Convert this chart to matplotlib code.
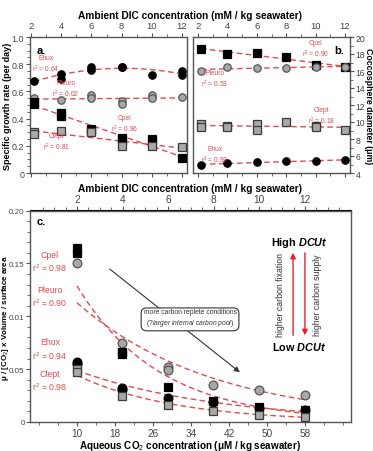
import numpy as np
import matplotlib.pyplot as plt
from matplotlib.ticker import MultipleLocator, FixedLocator, FixedFormatter

plt.rcParams['font.family'] = ['Liberation Sans', 'DejaVu Sans']
plt.rcParams['mathtext.fontset'] = 'custom'
plt.rcParams['mathtext.rm'] = 'Liberation Sans'
plt.rcParams['mathtext.it'] = 'Liberation Sans:italic'
plt.rcParams['mathtext.bf'] = 'Liberation Sans:bold'
plt.rcParams['mathtext.bfit'] = 'Liberation Sans:bold:italic'

# ---- panel a: specific growth rate vs ambient DIC ----
a_ehux_x = [2.2, 4, 4, 6, 6, 8, 8, 10, 12, 12]
a_ehux_y = [0.68, 0.73, 0.69, 0.78, 0.76, 0.78, 0.78, 0.72, 0.75, 0.72]
a_pleuro_x = [2.2, 4, 6, 6, 8, 8, 10, 10, 12]
a_pleuro_y = [0.55, 0.54, 0.57, 0.55, 0.53, 0.51, 0.57, 0.55, 0.56]
a_cpel_x = [2.2, 2.2, 4, 4, 6, 6, 8, 8, 10, 10, 12]
a_cpel_y = [0.52, 0.51, 0.44, 0.42, 0.32, 0.31, 0.26, 0.24, 0.25, 0.22, 0.11]
a_clept_x = [2.2, 2.2, 4, 6, 8, 10, 12]
a_clept_y = [0.30, 0.29, 0.31, 0.30, 0.20, 0.20, 0.19]

# ---- panel b: coccosphere diameter vs ambient DIC ----
b_cpel_x = [2.2, 4, 6, 8, 10, 12]
b_cpel_y = [18.6, 18.0, 18.1, 17.7, 16.7, 16.5]
b_pleuro_x = [2.2, 4, 6, 8, 10, 12]
b_pleuro_y = [16.0, 16.5, 16.3, 16.4, 16.5, 16.5]
b_clept_x = [2.2, 2.2, 4, 4, 6, 6, 8, 10, 10, 12]
b_clept_y = [9.8, 9.4, 9.5, 9.4, 9.8, 9.1, 10.0, 9.5, 9.4, 9.1]
b_ehux_x = [2.2, 4, 6, 8, 10, 12]
b_ehux_y = [4.9, 5.2, 5.3, 5.4, 5.4, 5.5]

# ---- panel c: vs aqueous CO2 ----
c_cpel_x = [10, 10, 19.5, 19.5, 29.2, 38.6, 48.3, 58]
c_cpel_y = [0.165, 0.160, 0.066, 0.064, 0.033, 0.020, 0.014, 0.011]
c_pleuro_x = [10, 19.5, 29.2, 29.2, 38.6, 48.3, 58]
c_pleuro_y = [0.150, 0.075, 0.052, 0.049, 0.035, 0.030, 0.026]
c_ehux_x = [10, 10, 19.5, 19.5, 29.2, 38.6, 48.3, 58]
c_ehux_y = [0.057, 0.055, 0.032, 0.030, 0.023, 0.019, 0.013, 0.011]
c_clept_x = [10, 10, 19.5, 29.2, 38.6, 48.3, 58]
c_clept_y = [0.050, 0.047, 0.025, 0.016, 0.010, 0.007, 0.005]

dic_ticks = [2, 4, 6, 8, 10, 12]
co2_ticks = [10, 18, 26, 34, 42, 50, 58]
c_ytick_labels = ['0', '0.05', '0.01', '0.15', '0.20']

RED = '#e34a4e'
styles = {
    'ehux': dict(marker='o', mfc='black', mec='black'),
    'pleuro': dict(marker='o', mfc='#a8a8a8', mec='#555555'),
    'cpel': dict(marker='s', mfc='black', mec='black'),
    'clept': dict(marker='s', mfc='#a8a8a8', mec='#3a3a3a'),
}


def pts(ax, x, y, key, ms=5.3):
    ax.plot(x, y, ls='none', ms=ms, mew=0.9, zorder=3, **styles[key])


def fit(ax, x, y, deg=1, kind='poly', xr=None):
    x = np.asarray(x, float)
    y = np.asarray(y, float)
    xs = np.linspace(min(x), max(x), 100) if xr is None else np.linspace(*xr, 100)
    if kind == 'exp':
        p = np.polyfit(x, np.log(y), 1)
        ys = np.exp(np.polyval(p, xs))
    else:
        p = np.polyfit(x, y, deg)
        ys = np.polyval(p, xs)
    ax.plot(xs, ys, color=RED, ls=(0, (4, 2.5)), lw=1.0, zorder=2)


def style_axis(ax, size=6.8):
    for s in ax.spines.values():
        s.set_color('#555555')
        s.set_linewidth(1.0)
    ax.tick_params(which='both', direction='out', colors='#555555',
                   labelcolor='#444444', labelsize=size, pad=1.5)
    ax.tick_params(which='major', length=3.2)
    ax.tick_params(which='minor', length=2)


W, H = 373, 452
fig = plt.figure(figsize=(W / 100, H / 100), dpi=100)
TFS = 7.3

# ---------- panel a ----------
ax_a = fig.add_axes([30 / W, 1 - 174 / H, 157 / W, 136 / H])
pts(ax_a, a_ehux_x, a_ehux_y, 'ehux')
pts(ax_a, a_pleuro_x, a_pleuro_y, 'pleuro')
pts(ax_a, a_cpel_x, a_cpel_y, 'cpel')
pts(ax_a, a_clept_x, a_clept_y, 'clept')
fit(ax_a, a_ehux_x, a_ehux_y, deg=2)
fit(ax_a, a_pleuro_x, a_pleuro_y)
fit(ax_a, a_cpel_x, a_cpel_y)
fit(ax_a, a_clept_x, a_clept_y)
ax_a.set_xlim(1.93, 12.33)
ax_a.set_ylim(0, 1.0)
ax_a.set_xticks(dic_ticks)
ax_a.xaxis.set_minor_locator(MultipleLocator(1))
ax_a.set_yticks([0, 0.2, 0.4, 0.6, 0.8, 1.0])
ax_a.set_yticklabels(['0', '0.2', '0.4', '0.6', '0.8', '1.0'])
ax_a.yaxis.set_minor_locator(MultipleLocator(0.05))
ax_a.tick_params(axis='x', which='both', top=True, labeltop=True, labelbottom=False)
style_axis(ax_a)
ax_a.tick_params(axis='y', labelsize=6.4, pad=1)
fig.text(7.3 / W, 1 - 106 / H, 'Specific growth rate (per day)', rotation=90,
         fontsize=6.5, fontweight='bold', ha='center', va='center')
ax_a.text(0.045, 0.94, 'a.', transform=ax_a.transAxes, fontsize=8, fontweight='bold', va='top')
lab_kw = dict(color=RED, fontsize=4.8, ha='center', va='center', linespacing=1.2)
ax_a.text(3.0, 0.80, 'Ehux\nr$^2$ = 0.64', **lab_kw)
ax_a.text(4.3, 0.62, 'Pleuro\nr$^2$ = 0.02', **lab_kw)
ax_a.text(8.2, 0.36, 'Cpel\nr$^2$ = 0.96', **lab_kw)
ax_a.text(3.7, 0.23, 'Clept\nr$^2$ = 0.81', **lab_kw)

# ---------- panel b ----------
ax_b = fig.add_axes([193 / W, 1 - 174 / H, 157 / W, 136 / H])
pts(ax_b, b_cpel_x, b_cpel_y, 'cpel')
pts(ax_b, b_pleuro_x, b_pleuro_y, 'pleuro')
pts(ax_b, b_clept_x, b_clept_y, 'clept')
pts(ax_b, b_ehux_x, b_ehux_y, 'ehux')
fit(ax_b, b_cpel_x, b_cpel_y)
fit(ax_b, b_pleuro_x, b_pleuro_y)
fit(ax_b, b_clept_x, b_clept_y)
fit(ax_b, b_ehux_x, b_ehux_y)
ax_b.set_xlim(1.66, 12.34)
ax_b.set_ylim(4, 20)
ax_b.set_xticks(dic_ticks)
ax_b.xaxis.set_minor_locator(MultipleLocator(1))
ax_b.yaxis.set_major_locator(MultipleLocator(2))
ax_b.yaxis.set_minor_locator(MultipleLocator(1))
ax_b.tick_params(axis='x', which='both', top=True, labeltop=True, labelbottom=False)
ax_b.tick_params(axis='y', which='both', left=False, right=True, labelleft=False, labelright=True)
style_axis(ax_b)
ax_b.tick_params(axis='y', labelsize=6.2, pad=1)
ax_b.tick_params(axis='y', which='major', length=3)
fig.text(368.5 / W, 1 - 106 / H, 'Coccosphere diameter (μm)', rotation=-90,
         fontsize=6.3, fontweight='bold', ha='center', va='center')
ax_b.text(0.96, 0.94, 'b.', transform=ax_b.transAxes, fontsize=8, fontweight='bold',
          va='top', ha='right')
ax_b.text(10.0, 18.6, 'Cpel\nr$^2$ = 0.90', **lab_kw)
ax_b.text(3.15, 15.1, 'Pleuro\nr$^2$ = 0.53', **lab_kw)
ax_b.text(10.4, 10.7, 'Clept\nr$^2$ = 0.18', **lab_kw)
ax_b.text(3.15, 6.1, 'Ehux\nr$^2$ = 0.93', **lab_kw)

fig.text(190 / W, 1 - 16 / H, 'Ambient DIC concentration (mM / kg seawater)',
         ha='center', va='center', fontsize=TFS, fontweight='bold')

# ---------- panel c ----------
ax_c = fig.add_axes([30 / W, 1 - 423 / H, 321 / W, 211.5 / H])
pts(ax_c, c_pleuro_x, c_pleuro_y, 'pleuro', ms=6.3)
pts(ax_c, c_cpel_x, c_cpel_y, 'cpel', ms=6.3)
pts(ax_c, c_ehux_x, c_ehux_y, 'ehux', ms=6.3)
pts(ax_c, c_clept_x, c_clept_y, 'clept', ms=6.3)
for xx, yy in [(c_cpel_x, c_cpel_y), (c_pleuro_x, c_pleuro_y),
               (c_ehux_x, c_ehux_y), (c_clept_x, c_clept_y)]:
    fit(ax_c, xx, yy, kind='exp', xr=(10, 58))
ax_c.set_xlim(0.1, 67.7)
ax_c.set_ylim(0, 0.20)
ax_c.xaxis.set_major_locator(FixedLocator(co2_ticks))
ax_c.xaxis.set_minor_locator(FixedLocator([2, 6, 14, 22, 30, 38, 46, 54, 62, 66]))
ax_c.yaxis.set_major_locator(FixedLocator([0, 0.05, 0.10, 0.15, 0.20]))
ax_c.yaxis.set_major_formatter(FixedFormatter(c_ytick_labels))
ax_c.yaxis.set_minor_locator(MultipleLocator(0.01))
style_axis(ax_c)
ax_c.tick_params(axis='x', labelsize=7.2, pad=1.2)
ax_c.tick_params(axis='y', labelsize=5.8, pad=0.8)
ax_c.tick_params(axis='y', which='major', length=3)
ax_c.set_xlabel('Aqueous CO$_2$ concentration (μM / kg seawater)', fontsize=7.1,
                fontweight='bold')
ax_c.xaxis.set_label_coords(0.5, -0.077)
fig.text(5.2 / W, 1 - 318 / H, 'μ / [CO$_2$] x Volume / surface area', rotation=90,
         fontsize=5.8, fontweight='bold', ha='center', va='center')

top = ax_c.secondary_xaxis('top', functions=(lambda v: 2 + (v - 10) / 4.8,
                                             lambda d: 10 + (d - 2) * 4.8))
top.xaxis.set_major_locator(FixedLocator(dic_ticks))
top.xaxis.set_minor_locator(FixedLocator(np.arange(0.5, 14.0, 0.5)))
top.tick_params(which='both', direction='out', colors='#555555',
                labelcolor='#444444', labelsize=7.3, pad=1.5)
top.tick_params(which='major', length=3.2)
top.tick_params(which='minor', length=2)
top.set_xlabel('Ambient DIC concentration (mM / kg seawater)', fontsize=TFS,
               fontweight='bold', labelpad=2)

ax_c.text(0.02, 0.975, 'c.', transform=ax_c.transAxes, fontsize=8, fontweight='bold', va='top')
labc = dict(color=RED, fontsize=6.3, ha='center', va='center', linespacing=1.25)
ax_c.text(4.3, 0.152, 'Cpel\nr$^2$ = 0.98', **labc)
ax_c.text(4.3, 0.119, 'Pleuro\nr$^2$ = 0.90', **labc)
ax_c.text(4.3, 0.069, 'Ehux\nr$^2$ = 0.94', **labc)
ax_c.text(4.3, 0.039, 'Clept\nr$^2$ = 0.98', **labc)

ax_c.annotate('', xy=(44.3, 0.047), xytext=(16.9, 0.1446),
              arrowprops=dict(arrowstyle='-|>', color='#333333', lw=0.8,
                              mutation_scale=8, shrinkA=0, shrinkB=0))
ax_c.text(33.8, 0.098,
          'more carbon replete conditions\n$\\mathit{(?larger\\ internal\\ carbon\\ pool)}$',
          fontsize=4.9, color='#333333', ha='center', va='center', linespacing=1.3,
          bbox=dict(boxstyle='round,pad=0.35,rounding_size=0.8', fc='white',
                    ec='#333333', lw=0.8), zorder=4)

ax_c.text(56.8, 0.170, 'High $\\mathbfit{DCUt}$', fontsize=7.8, fontweight='bold',
          ha='center', va='center')
ax_c.text(56.8, 0.072, 'Low $\\mathbfit{DCUt}$', fontsize=7.8, fontweight='bold',
          ha='center', va='center')
ax_c.annotate('', xy=(55.5, 0.160), xytext=(55.5, 0.082),
              arrowprops=dict(arrowstyle='-|>', color='#e8202a', lw=1.0,
                              mutation_scale=8, shrinkA=0, shrinkB=0))
ax_c.annotate('', xy=(58.0, 0.082), xytext=(58.0, 0.160),
              arrowprops=dict(arrowstyle='-|>', color='#e8202a', lw=1.0,
                              mutation_scale=8, shrinkA=0, shrinkB=0))
ax_c.text(52.8, 0.121, 'higher carbon fixation', rotation=90, fontsize=6.3,
          ha='center', va='center', color='#333333')
ax_c.text(60.6, 0.121, 'higher carbon supply', rotation=90, fontsize=6.3,
          ha='center', va='center', color='#333333')

fig.savefig('out.png', dpi=100)
